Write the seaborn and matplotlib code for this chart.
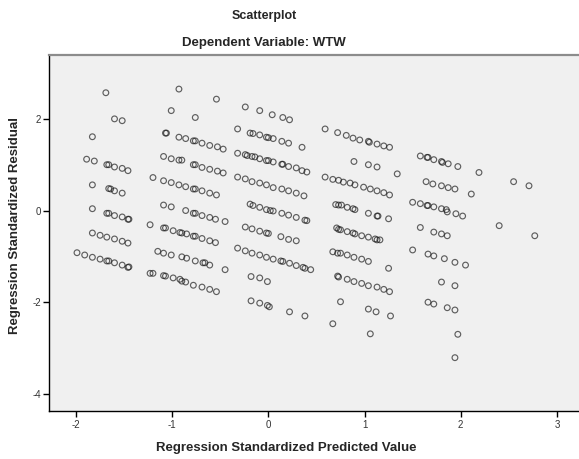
import matplotlib
matplotlib.use("Agg")
import matplotlib.pyplot as plt
import seaborn as sns
import pandas as pd

# ---- data: (standardized predicted value, standardized residual) grouped by cluster ----
cluster_a_x = [-1.69, -1.60, -1.52, -1.83,
               -1.89, -1.81, -1.68, -1.66, -1.60, -1.52, -1.46,
               -1.83, -1.66, -1.64, -1.60, -1.52,
               -1.83, -1.68, -1.66, -1.60, -1.52, -1.46, -1.45,
               -1.83, -1.75, -1.68, -1.60, -1.52, -1.46,
               -1.99, -1.91, -1.83, -1.75, -1.68, -1.66, -1.60, -1.52, -1.46, -1.45]
cluster_a_y = [2.57, 2.00, 1.96, 1.61,
               1.12, 1.08, 1.00, 1.00, 0.95, 0.92, 0.87,
               0.56, 0.48, 0.47, 0.43, 0.38,
               0.04, -0.06, -0.06, -0.11, -0.14, -0.19, -0.19,
               -0.49, -0.54, -0.58, -0.62, -0.67, -0.71,
               -0.92, -0.97, -1.02, -1.06, -1.10, -1.10, -1.14, -1.19, -1.24, -1.23]

cluster_b_x = [-0.93, -1.01, -0.76, -0.54,
               -1.07, -1.06, -0.93, -0.86, -0.78, -0.76, -0.69, -0.61, -0.53, -0.47,
               -1.09, -1.01, -0.93, -0.90, -0.78, -0.76, -0.69, -0.61, -0.53, -0.47,
               -1.20, -1.09, -1.01, -0.93, -0.86, -0.78, -0.76, -0.69, -0.61, -0.54,
               -1.09, -1.01, -0.86, -0.78, -0.76, -0.69, -0.61, -0.55, -0.45,
               -1.23, -1.09, -1.07, -0.99, -0.92, -0.90, -0.85, -0.78, -0.76, -0.69, -0.61, -0.55,
               -1.15, -1.09, -1.01, -0.90, -0.85, -0.76, -0.68, -0.66, -0.61, -0.45,
               -1.23, -1.20, -1.09, -1.07, -0.99, -0.92, -0.90, -0.86, -0.78, -0.69, -0.61, -0.54]
cluster_b_y = [2.65, 2.18, 2.03, 2.43,
               1.69, 1.69, 1.60, 1.57, 1.52, 1.52, 1.47, 1.42, 1.39, 1.34,
               1.18, 1.13, 1.10, 1.10, 1.00, 1.00, 0.94, 0.90, 0.86, 0.82,
               0.72, 0.65, 0.61, 0.56, 0.52, 0.47, 0.47, 0.43, 0.38, 0.34,
               0.12, 0.08, 0.00, -0.06, -0.06, -0.11, -0.15, -0.19, -0.24,
               -0.31, -0.38, -0.38, -0.44, -0.48, -0.49, -0.51, -0.56, -0.56, -0.61, -0.66, -0.70,
               -0.89, -0.93, -0.97, -1.01, -1.04, -1.10, -1.14, -1.14, -1.19, -1.29,
               -1.37, -1.37, -1.42, -1.43, -1.47, -1.50, -1.54, -1.56, -1.63, -1.67, -1.72, -1.77]

cluster_c_x = [-0.24, -0.09, 0.04, 0.15, 0.22,
               -0.32, -0.19, -0.16, -0.09, -0.02, 0.00, 0.05, 0.14, 0.21, 0.35,
               -0.32, -0.24, -0.22, -0.17, -0.14, -0.09, -0.02, 0.00, 0.05, 0.14, 0.15, 0.21, 0.29, 0.35, 0.40,
               -0.32, -0.24, -0.17, -0.09, -0.02, 0.05, 0.14, 0.21, 0.29, 0.37,
               -0.19, -0.16, -0.09, -0.02, 0.02, 0.05, 0.14, 0.21, 0.29, 0.38, 0.40,
               -0.24, -0.17, -0.09, -0.02, 0.00, 0.13, 0.21, 0.29,
               -0.32, -0.24, -0.17, -0.09, -0.02, 0.05, 0.13, 0.15, 0.22, 0.29, 0.36, 0.38, 0.44,
               -0.18, -0.09, -0.01,
               -0.18, -0.09, -0.01, 0.01, 0.22, 0.38]
cluster_c_y = [2.26, 2.18, 2.09, 2.03, 1.98,
               1.78, 1.69, 1.68, 1.65, 1.60, 1.59, 1.57, 1.51, 1.47, 1.38,
               1.25, 1.22, 1.20, 1.18, 1.17, 1.13, 1.09, 1.09, 1.06, 1.01, 1.01, 0.96, 0.93, 0.87, 0.84,
               0.73, 0.69, 0.63, 0.60, 0.56, 0.50, 0.47, 0.43, 0.38, 0.32,
               0.14, 0.11, 0.07, 0.02, 0.00, -0.01, -0.06, -0.10, -0.15, -0.21, -0.22,
               -0.36, -0.40, -0.45, -0.49, -0.50, -0.57, -0.63, -0.66,
               -0.82, -0.88, -0.93, -0.97, -1.02, -1.06, -1.10, -1.11, -1.15, -1.20, -1.24, -1.26, -1.29,
               -1.44, -1.47, -1.55,
               -1.97, -2.02, -2.07, -2.10, -2.21, -2.30]

cluster_d_x = [0.59, 0.72, 0.81, 0.88, 0.95, 1.04, 1.05, 1.13, 1.20, 1.26,
               0.89, 1.04, 1.13, 1.34,
               0.59, 0.67, 0.73, 0.78, 0.85, 0.90, 0.99, 1.06, 1.13, 1.20, 1.26,
               0.70, 0.73, 0.76, 0.82, 0.88, 0.90, 1.04, 1.13, 1.14, 1.25,
               0.71, 0.73, 0.75, 0.82, 0.88, 0.90, 0.97, 1.04, 1.11, 1.13, 1.16,
               0.67, 0.72, 0.75, 0.82, 0.89, 0.97, 1.04, 1.25,
               0.72, 0.73, 0.82, 0.89, 0.97, 1.04, 1.13, 1.20, 1.26,
               0.75, 1.04, 1.12, 0.67, 1.06, 1.27]
cluster_d_y = [1.78, 1.70, 1.64, 1.58, 1.54, 1.51, 1.49, 1.45, 1.41, 1.38,
               1.07, 1.00, 0.95, 0.80,
               0.73, 0.68, 0.66, 0.62, 0.60, 0.56, 0.51, 0.47, 0.43, 0.39, 0.34,
               0.13, 0.12, 0.12, 0.07, 0.04, 0.02, -0.06, -0.12, -0.12, -0.18,
               -0.38, -0.41, -0.42, -0.46, -0.49, -0.51, -0.55, -0.58, -0.62, -0.64, -0.64,
               -0.90, -0.93, -0.93, -0.97, -1.02, -1.06, -1.11, -1.26,
               -1.43, -1.45, -1.50, -1.55, -1.59, -1.64, -1.67, -1.72, -1.77,
               -1.99, -2.15, -2.21, -2.47, -2.69, -2.30]

cluster_e_x = [1.58, 1.65, 1.66, 1.72, 1.80, 1.81, 1.87, 1.97, 2.19,
               1.64, 1.71, 1.80, 1.87, 1.94, 2.11, 2.55, 2.71,
               1.50, 1.58, 1.65, 1.66, 1.72, 1.80, 1.85, 1.86, 1.95, 2.02,
               2.40, 2.77,
               1.58, 1.72, 1.80, 1.86,
               1.50, 1.66, 1.72, 1.83, 1.94, 2.05,
               1.80, 1.94,
               1.66, 1.72, 1.86, 1.94,
               1.97, 1.94]
cluster_e_y = [1.19, 1.16, 1.16, 1.11, 1.07, 1.05, 1.02, 0.96, 0.83,
               0.63, 0.58, 0.54, 0.50, 0.47, 0.36, 0.63, 0.54,
               0.18, 0.15, 0.11, 0.11, 0.08, 0.04, 0.02, -0.03, -0.07, -0.12,
               -0.33, -0.55,
               -0.37, -0.47, -0.51, -0.55,
               -0.86, -0.95, -0.99, -1.05, -1.13, -1.19,
               -1.56, -1.64,
               -2.00, -2.04, -2.12, -2.17,
               -2.70, -3.21]

x_ticks = [-2, -1, 0, 1, 2, 3]
y_ticks = [-4, -2, 0, 2]

df = pd.DataFrame({
    "pred": cluster_a_x + cluster_b_x + cluster_c_x + cluster_d_x + cluster_e_x,
    "resid": cluster_a_y + cluster_b_y + cluster_c_y + cluster_d_y + cluster_e_y,
})

sns.set_style("white")
plt.rcParams["font.family"] = ["Liberation Sans", "DejaVu Sans"]

W, H = 579, 459
fig = plt.figure(figsize=(W / 100, H / 100), dpi=100)
ax = fig.add_axes([49.3 / W, 1 - 411.3 / H, (W - 49.3) / W, (411.3 - 54.7) / H])
ax.set_facecolor("#F0F0F0")

sns.scatterplot(data=df, x="pred", y="resid", ax=ax, marker="o", s=17,
                facecolor="none", edgecolor="#1a1a1a", linewidth=0.85, alpha=0.68)

ax.set_xlim(-2.278, 3.23)
ax.set_ylim(-4.38, 3.40)
ax.set_xticks(x_ticks)
ax.set_yticks(y_ticks)
ax.set_xticklabels([str(t) for t in x_ticks])
ax.set_yticklabels([str(t) for t in y_ticks])
ax.tick_params(axis="both", direction="out", length=4, width=1, color="black",
               labelsize=7, labelcolor="#333333", pad=2)
ax.tick_params(axis="x", bottom=True)
ax.tick_params(axis="y", left=True)

for side in ["left", "bottom"]:
    ax.spines[side].set_color("black")
    ax.spines[side].set_linewidth(1.0)
ax.spines["top"].set_color("#8c8c8c")
ax.spines["top"].set_linewidth(1.6)
ax.spines["right"].set_visible(False)

ax.set_xlabel("Regression Standardized Predicted Value", fontsize=9.5, fontweight="bold")
ax.set_ylabel("Regression Standardized Residual", fontsize=9.5, fontweight="bold")
ax.xaxis.set_label_coords((286 - 49.3) / (W - 49.3), -(442 - 411.3) / (411.3 - 54.7))
ax.yaxis.set_label_coords(-(49.3 - 21) / (W - 49.3), (411.3 - 225) / (411.3 - 54.7))

fig.text(264 / W, 1 - 16 / H, "Scatterplot", ha="center", va="center",
         fontsize=9, fontweight="bold")
fig.text(264 / W, 1 - 43 / H, "Dependent Variable: WTW", ha="center", va="center",
         fontsize=9.5, fontweight="bold")

fig.savefig("out.png", dpi=100, facecolor="white")
